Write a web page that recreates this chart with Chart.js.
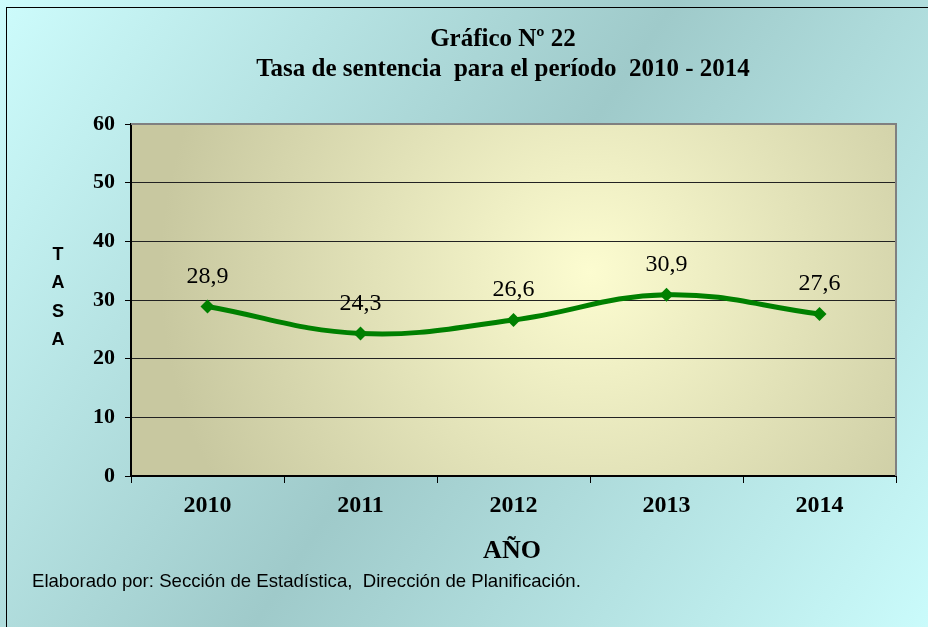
<!DOCTYPE html>
<html>
<head>
<meta charset="utf-8">
<title>Tasa de sentencia 2010 - 2014</title>
<script src="https://cdn.jsdelivr.net/npm/chart.js@4/dist/chart.umd.min.js"></script>
<style>
  html, body { margin: 0; padding: 0; background: #fff; }
  canvas { display: block; }
</style>
</head>
<body>
<canvas id="chart" width="928" height="627"></canvas>
<script>
const years = ['2010', '2011', '2012', '2013', '2014'];
const tasa = [28.9, 24.3, 26.6, 30.9, 27.6];
const yTicks = [0, 10, 20, 30, 40, 50, 60];

const titleLines = ['Gráfico Nº 22', 'Tasa de sentencia  para el período  2010 - 2014'];
const xTitle = 'AÑO';
const yTitleLetters = ['T', 'A', 'S', 'A'];
const footer = 'Elaborado por: Sección de Estadística,  Dirección de Planificación.';

const decimalFormat = new Intl.NumberFormat('es-ES', { minimumFractionDigits: 1, maximumFractionDigits: 1 });
const serif = '"Liberation Serif", "Times New Roman", serif';
const sans = '"Liberation Sans", Arial, sans-serif';

const backdrop = {
  id: 'backdrop',
  beforeDraw(chart) {
    const { ctx, width, height, chartArea: a } = chart;
    ctx.save();
    const bg = ctx.createLinearGradient(0, 0, width, height);
    bg.addColorStop(0, '#cdfcfc');
    bg.addColorStop(0.5, '#9fcaca');
    bg.addColorStop(1, '#cafbfb');
    ctx.fillStyle = bg;
    ctx.fillRect(0, 0, width, height);
    ctx.strokeStyle = '#000';
    ctx.lineWidth = 1;
    ctx.strokeRect(6.5, 7.5, width + 10, height + 10);

    const cx = a.left + (a.right - a.left) * 0.6;
    const cy = a.top + (a.bottom - a.top) * 0.42;
    const plot = ctx.createRadialGradient(cx, cy, 0, cx, cy, 430);
    plot.addColorStop(0, '#fcfcd0');
    plot.addColorStop(1, '#c8c8a0');
    ctx.fillStyle = plot;
    ctx.fillRect(a.left, a.top, a.right - a.left, a.bottom - a.top);
    ctx.restore();
  },
  afterDatasetsDraw(chart) {
    const { ctx, chartArea: a } = chart;
    ctx.save();
    // grey frame on the top and right of the plot
    ctx.strokeStyle = '#808080';
    ctx.lineWidth = 2;
    ctx.beginPath();
    ctx.moveTo(a.left, a.top);
    ctx.lineTo(a.right, a.top);
    ctx.lineTo(a.right, a.bottom);
    ctx.stroke();

    const meta = chart.getDatasetMeta(0);
    ctx.fillStyle = '#000';
    ctx.font = `24px ${serif}`;
    ctx.textAlign = 'center';
    ctx.textBaseline = 'middle';
    meta.data.forEach((pt, i) => {
      ctx.fillText(decimalFormat.format(tasa[i]), pt.x, pt.y - 30);
    });
    ctx.restore();
  },
  afterDraw(chart) {
    const { ctx } = chart;
    ctx.save();
    ctx.fillStyle = '#000';
    ctx.textAlign = 'center';
    ctx.textBaseline = 'middle';
    ctx.font = `bold 25px ${serif}`;
    ctx.fillText(titleLines[0], 503, 40);
    ctx.fillText(titleLines[1], 503, 70);

    ctx.font = `bold 26px ${serif}`;
    ctx.fillText(xTitle, 512, 551);

    ctx.font = `bold 18px ${sans}`;
    yTitleLetters.forEach((ch, i) => ctx.fillText(ch, 58, 255 + i * 28.5));

    ctx.font = `18.6px ${sans}`;
    ctx.textAlign = 'left';
    ctx.fillText(footer, 32, 582);
    ctx.restore();
  }
};

new Chart(document.getElementById('chart'), {
  type: 'line',
  data: {
    labels: years,
    datasets: [{
      label: 'Tasa',
      data: tasa,
      borderColor: '#008000',
      backgroundColor: '#008000',
      borderWidth: 5,
      tension: 0.4,
      pointStyle: 'rectRot',
      pointRadius: 7,
      pointBorderWidth: 0,
      fill: false
    }]
  },
  options: {
    responsive: false,
    animation: false,
    layout: { padding: { left: 0, top: 124, right: 32, bottom: 0 } },
    plugins: { legend: { display: false }, tooltip: { enabled: false }, title: { display: false } },
    scales: {
      x: {
        offset: true,
        afterFit(scale) { scale.height = 151; },
        grid: { offset: true, drawOnChartArea: false, color: '#000', tickLength: 7 },
        border: { color: '#000', width: 2 },
        ticks: {
          color: '#000',
          padding: 8,
          font: { family: serif, size: 24, weight: 'bold' }
        }
      },
      y: {
        min: 0,
        max: 60,
        afterFit(scale) { scale.width = 131; },
        afterBuildTicks(scale) { scale.ticks = yTicks.map((v) => ({ value: v })); },
        grid: {
          color: (c) => (c.tick && c.tick.value === 60 ? 'rgba(0,0,0,0)' : '#222'),
          lineWidth: 1,
          tickLength: 6,
          tickColor: '#000'
        },
        border: { color: '#000', width: 2 },
        ticks: {
          color: '#000',
          padding: 10,
          font: { family: serif, size: 22, weight: 'bold' }
        }
      }
    }
  },
  plugins: [backdrop]
});
</script>
</body>
</html>
